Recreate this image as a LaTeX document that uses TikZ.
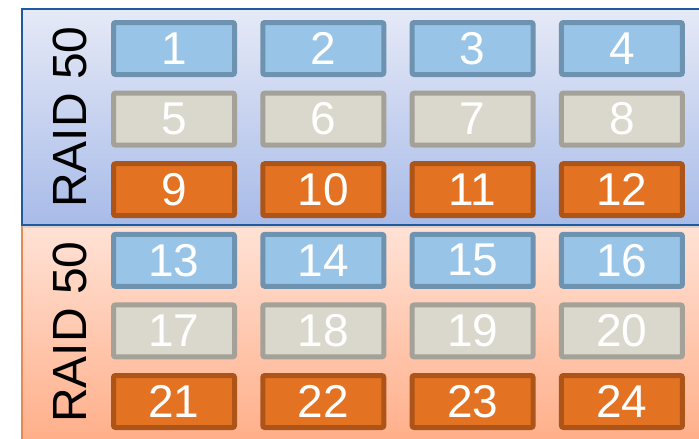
\documentclass[tikz,border=0pt]{standalone}
\usepackage{fontspec}
\setmainfont{Liberation Sans}
\definecolor{bluefill}{HTML}{98C4E8}
\definecolor{blueline}{HTML}{6E93B0}
\definecolor{grayfill}{HTML}{DAD8CC}
\definecolor{grayline}{HTML}{A4A199}
\definecolor{orfill}{HTML}{E37222}
\definecolor{orline}{HTML}{AD5419}
\definecolor{toptop}{HTML}{E6EAF7}
\definecolor{topbot}{HTML}{A8BBE8}
\definecolor{bottop}{HTML}{FFE2D6}
\definecolor{botbot}{HTML}{FFAE88}
\definecolor{panelblue}{HTML}{1F5A9E}
\definecolor{panelor}{HTML}{E58A55}
\begin{document}
\begin{tikzpicture}[x=1pt,y=1pt,
  disk/.style={rectangle, rounded corners=2pt, line width=5pt, minimum width=121pt, minimum height=52pt,
    inner sep=0pt, text=white, font=\fontsize{46}{46}\selectfont},
  bluedisk/.style={disk, draw=blueline, fill=bluefill},
  graydisk/.style={disk, draw=grayline, fill=grayfill},
  ordisk/.style={disk, draw=orline, fill=orfill},
  raid/.style={rotate=90, font=\fontsize{48}{48}\selectfont, text=black, inner sep=0pt}]
\useasboundingbox (0,0) rectangle (699,-439);
\fill[white] (0,0) rectangle (699,-439);
% bottom panel
\shade[top color=bottop, bottom color=botbot] (21,-226) rectangle (705,-445);
\draw[panelor, line width=1.5pt] (21.75,-226) -- (21.75,-445);
\fill[black!25, opacity=0.5] (22,-225) rectangle (705,-228);
% top panel
\shade[top color=toptop, bottom color=topbot] (21,-8) rectangle (705,-225);
\draw[panelblue, line width=1.5pt] (705,-8.75) -- (21.75,-8.75) -- (21.75,-224.75) -- (705,-224.75);
% labels
\node[raid] (r1) at (70,-117) {RAID 50};
\node[raid] (r2) at (70,-332) {RAID 50};
% disks
\foreach \n [count=\i from 0] in {1,...,24} {
  \pgfmathtruncatemacro{\c}{mod(\i,4)}
  \pgfmathtruncatemacro{\r}{int(\i/4)}
  \pgfmathtruncatemacro{\k}{mod(\r,3)}
  \pgfmathsetmacro{\xx}{174+149.3*\c}
  \pgfmathsetmacro{\yy}{-48.5-70.6*\r}
  \ifcase\k
    \node[bluedisk] (d\n) at (\xx,\yy) {\n};
  \or
    \node[graydisk] (d\n) at (\xx,\yy) {\n};
  \or
    \node[ordisk] (d\n) at (\xx,\yy) {\n};
  \fi
}
\end{tikzpicture}
\end{document}
